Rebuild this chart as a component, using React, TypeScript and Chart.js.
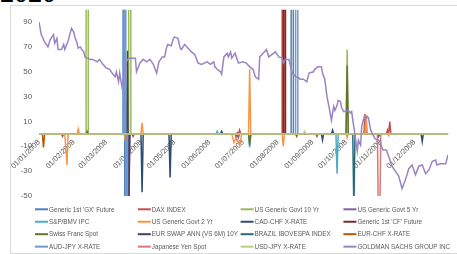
import React, { useEffect, useRef } from 'react';
import { Chart, registerables } from 'chart.js';

Chart.register(...registerables);

// Days of 2008 (0 = 01/01/2008) where each month starts, with their axis labels
const monthStartDays = [0, 31, 60, 91, 121, 152, 182, 213, 244, 274, 305, 335];
const monthLabels = [
  '01/01/2008', '01/02/2008', '01/03/2008', '01/04/2008', '01/05/2008', '01/06/2008',
  '01/07/2008', '01/08/2008', '01/09/2008', '01/10/2008', '01/11/2008', '01/12/2008',
];
const yTickValues = [-50, -30, -10, 10, 30, 50, 70, 90];

const seriesNames = [
  "Generic 1st 'GX' Future", 'DAX INDEX', 'US Generic Govt 10 Yr', 'US Generic Govt 5 Yr',
  'S&P/BMV IPC', 'US Generic Govt 2 Yr', 'CAD-CHF X-RATE', "Generic 1st 'CF' Future",
  'Swiss Franc Spot', 'EUR SWAP ANN (VS 6M) 10Y', 'BRAZIL IBOVESPA INDEX', 'EUR-CHF X-RATE',
  'AUD-JPY X-RATE', 'Japanese Yen Spot', 'USD-JPY X-RATE', 'GOLDMAN SACHS GROUP INC',
];
const seriesColors = [
  '#4F81BD', '#C0504D', '#9BBB59', '#8064A2', '#4BACC6', '#F79646',
  '#2C4D75', '#772C2A', '#5F7530', '#4D3B62', '#276A7C', '#B65708',
  '#729ACA', '#D47A78', '#B5CF80', '#9A84C2',
];

// [day of 2008, value]
const gxFuture = [[0, 0], [75, 0], [76, 2500], [77, -2500], [78, 0], [225, 0], [226, 2500], [227, 0], [365, 0]];
const daxIndex = [[0, 0], [20, 0], [21, -2], [22, 0], [83, 0], [84, -2], [85, 0], [176, 0], [177, 1], [178, 0], [179, 3], [180, 0], [217, 0], [218, 2500], [219, 0], [247, 0], [248, -2], [249, 0], [290, 0], [291, 16], [292, 0], [310, 0], [311, 3], [312, 0], [313, 10], [314, 0], [365, 0]];
const usGovt10 = [[0, 0], [42, 0], [43, 2500], [44, 0], [78, 0], [79, -15], [80, 0], [81, 2500], [82, 0], [274, 0], [275, 68], [276, 0], [365, 0]];
const usGovt5 = [[0, 0], [175, 0], [176, -4], [177, 0], [178, -3], [179, 0], [365, 0]];
const spBmv = [[0, 0], [158, 0], [159, 2], [160, 0], [187, 0], [188, -11], [189, 0], [265, 0], [266, -32], [267, 0], [365, 0]];
const usGovt2 = [[0, 0], [23, 0], [25, -25], [26, 0], [34, 0], [35, 4], [36, 0], [76, 0], [77, -5], [78, 0], [91, 0], [92, 9], [93, 0], [172, 0], [174, -7], [176, -3], [179, -9], [181, 0], [187, 0], [188, 52], [189, 0], [217, 0], [218, -10], [219, 0], [274, 0], [275, -3], [276, 0], [291, 0], [292, 15], [293, 0], [365, 0]];
const cadChf = [[0, 0], [79, 0], [80, -60], [81, 0], [91, 0], [92, -47], [93, 0], [116, 0], [117, -35], [118, 0], [162, 0], [163, 2], [164, 0], [252, 0], [253, -5], [254, 0], [261, 0], [262, 3], [263, 0], [302, 0], [303, -2], [304, 0], [341, 0], [342, -6], [343, 0], [365, 0]];
const genericCf = [[0, 0], [218, 0], [219, 2500], [220, 0], [365, 0]];
const swissFranc = [[0, 0], [42, 0], [43, 2], [44, 0], [187, 0], [188, -9], [189, 0], [274, 0], [275, 55], [276, 0], [365, 0]];
const eurSwap = [[0, 0], [78, 0], [79, 67], [80, -80], [81, 0], [365, 0]];
const brazilIbovespa = [[0, 0], [280, 0], [281, -60], [282, 0], [365, 0]];
const eurChf = [[0, 0], [3, 0], [4, -11], [5, 0], [229, 0], [230, -2], [231, 0], [365, 0]];
const audJpy = [[0, 0], [76, 0], [77, 2500], [78, -2500], [79, 0], [229, 0], [230, 2500], [231, 0], [365, 0]];
const yenSpot = [[0, 0], [302, 0], [303, -80], [304, -80], [305, 0], [365, 0]];
const usdJpy = [[0, 0], [236, 0], [237, 2], [238, 0], [365, 0]];
const goldman = [
  [0, 90], [2, 80], [5, 74], [8, 70], [10, 76], [13, 80], [14, 73], [16, 77], [17, 68], [20, 68],
  [22, 72], [23, 68], [26, 75], [29, 85], [31, 82], [32, 78], [34, 73], [35, 69], [37, 70], [38, 68],
  [40, 66], [41, 62], [43, 61], [46, 60], [48, 60], [52, 58], [54, 60], [57, 56], [60, 53], [63, 52],
  [66, 48], [68, 46], [69, 50], [71, 42], [72, 49], [74, 38], [77, 50], [78, 58], [80, 61], [83, 61],
  [86, 61], [87, 50], [90, 57], [93, 60], [96, 58], [99, 60], [102, 56], [105, 49], [107, 58], [110, 62],
  [112, 62], [114, 70], [115, 72], [118, 71], [120, 77], [121, 78], [124, 77], [126, 69], [127, 68], [130, 72],
  [133, 69], [136, 66], [139, 64], [142, 57], [145, 56], [150, 58], [153, 56], [156, 58], [157, 54], [159, 52],
  [162, 50], [163, 48], [165, 62], [168, 65], [169, 62], [171, 66], [172, 61], [175, 65], [178, 57], [182, 58],
  [185, 57], [188, 54], [191, 52], [193, 46], [196, 44], [197, 62], [200, 65], [203, 68], [205, 62], [208, 64],
  [211, 66], [214, 62], [217, 61], [218, 57], [220, 60], [223, 60], [226, 49], [229, 46], [232, 45], [233, 44],
  [236, 44], [239, 42], [241, 49], [245, 50], [246, 52], [249, 54], [252, 54], [253, 49], [255, 44], [257, 30],
  [259, 21], [261, 11], [263, 22], [264, 19], [266, 23], [267, 27], [269, 26], [270, 21], [272, 18], [276, 19],
  [278, 17], [279, 18], [282, -1], [284, -14], [285, -5], [287, -9], [288, 6], [290, 13], [291, 11], [293, 14],
  [294, 13], [296, 3], [297, 1], [300, -4], [303, -5], [304, -6], [307, -13], [310, -13], [312, -18], [315, -26],
  [318, -30], [321, -34], [324, -44], [327, -37], [330, -28], [333, -25], [336, -33], [339, -26], [342, -25], [345, -32],
  [348, -29], [351, -22], [354, -21], [355, -25], [358, -24], [363, -24], [365, -17],
];

const seriesData = [
  gxFuture, daxIndex, usGovt10, usGovt5, spBmv, usGovt2, cadChf, genericCf,
  swissFranc, eurSwap, brazilIbovespa, eurChf, audJpy, yenSpot, usdJpy, goldman,
];

const FONT = "'Liberation Sans', Arial, sans-serif";
const TEXT_COLOR = '#595959';

const gridLegend = {
  id: 'gridLegend',
  afterDraw(chart: any) {
    const ctx = chart.ctx;
    const left = 24;
    const colW = 102.8;
    const top = 203.3;
    const rowH = 12.45;
    ctx.save();
    ctx.font = `6.3px ${FONT}`;
    ctx.textBaseline = 'middle';
    ctx.textAlign = 'left';
    chart.data.datasets.forEach((ds: any, i: number) => {
      const col = i % 4;
      const row = Math.floor(i / 4);
      const x = left + col * colW;
      const y = top + row * rowH;
      ctx.strokeStyle = ds.borderColor;
      ctx.lineWidth = 2;
      ctx.beginPath();
      ctx.moveTo(x, y);
      ctx.lineTo(x + 13, y);
      ctx.stroke();
      ctx.fillStyle = TEXT_COLOR;
      ctx.fillText(ds.label, x + 14, y + 0.5);
    });
    ctx.restore();
  },
};

export default function App() {
  const canvasRef = useRef<HTMLCanvasElement | null>(null);

  useEffect(() => {
    const canvas = canvasRef.current;
    if (!canvas) return;
    const n = seriesNames.length;
    const chart = new Chart(canvas, {
      type: 'line',
      data: {
        datasets: seriesNames.map((name, i) => ({
          label: name,
          data: seriesData[i].map(([x, y]) => ({ x, y })),
          borderColor: seriesColors[i],
          backgroundColor: seriesColors[i],
          borderWidth: 1.5,
          pointRadius: 0,
          tension: 0,
          fill: false,
          order: n - i,
        })),
      },
      options: {
        animation: false,
        responsive: false,
        maintainAspectRatio: false,
        events: [],
        layout: { autoPadding: false, padding: { left: 0, right: 9, top: 3.7, bottom: 57 } },
        plugins: {
          legend: { display: false },
          tooltip: { enabled: false },
          title: { display: false },
        },
        scales: {
          x: {
            type: 'linear',
            min: 0,
            max: 365,
            position: { y: 0 },
            grid: { display: false, drawTicks: false },
            border: { display: true, color: '#d9d9d9', width: 1 },
            ticks: {
              autoSkip: false,
              minRotation: 45,
              maxRotation: 45,
              padding: 4,
              color: TEXT_COLOR,
              font: { family: FONT, size: 7.5 },
              callback: (value: any) => {
                const idx = monthStartDays.indexOf(Number(value));
                return idx >= 0 ? monthLabels[idx] : '';
              },
            },
            afterBuildTicks: (scale: any) => {
              scale.ticks = monthStartDays.map((v) => ({ value: v }));
            },
            afterFit: (scale: any) => {
              scale.paddingLeft = 0;
              scale.paddingRight = 0;
            },
          },
          y: {
            type: 'linear',
            min: -50,
            max: 100,
            grid: { display: false, drawTicks: false },
            border: { display: false },
            ticks: {
              padding: 7,
              color: TEXT_COLOR,
              font: { family: FONT, size: 7.8 },
            },
            afterBuildTicks: (scale: any) => {
              scale.ticks = yTickValues.map((v) => ({ value: v }));
            },
            afterFit: (scale: any) => {
              scale.width = 28;
              scale.paddingTop = 0;
              scale.paddingBottom = 0;
            },
          },
        },
      },
      plugins: [gridLegend],
    } as any);
    return () => chart.destroy();
  }, []);

  return (
    <div
      style={{
        position: 'absolute',
        left: 0,
        top: 0,
        width: 457,
        height: 254,
        overflow: 'hidden',
        background: '#ffffff',
      }}
    >
      <div
        style={{
          position: 'absolute',
          left: 0,
          top: -21,
          fontFamily: "'Liberation Serif', serif",
          fontWeight: 'bold',
          fontSize: 28,
          lineHeight: '28px',
          color: '#000',
          whiteSpace: 'nowrap',
        }}
      >
        2020
      </div>
      <div
        style={{
          position: 'absolute',
          left: 10,
          top: 5,
          width: 470,
          height: 249,
          border: '1px solid #d9d9d9',
          boxSizing: 'border-box',
        }}
      />
      <canvas
        ref={canvasRef}
        width={446}
        height={247}
        style={{ position: 'absolute', left: 11, top: 6, width: 446, height: 247, display: 'block' }}
      />
    </div>
  );
}
